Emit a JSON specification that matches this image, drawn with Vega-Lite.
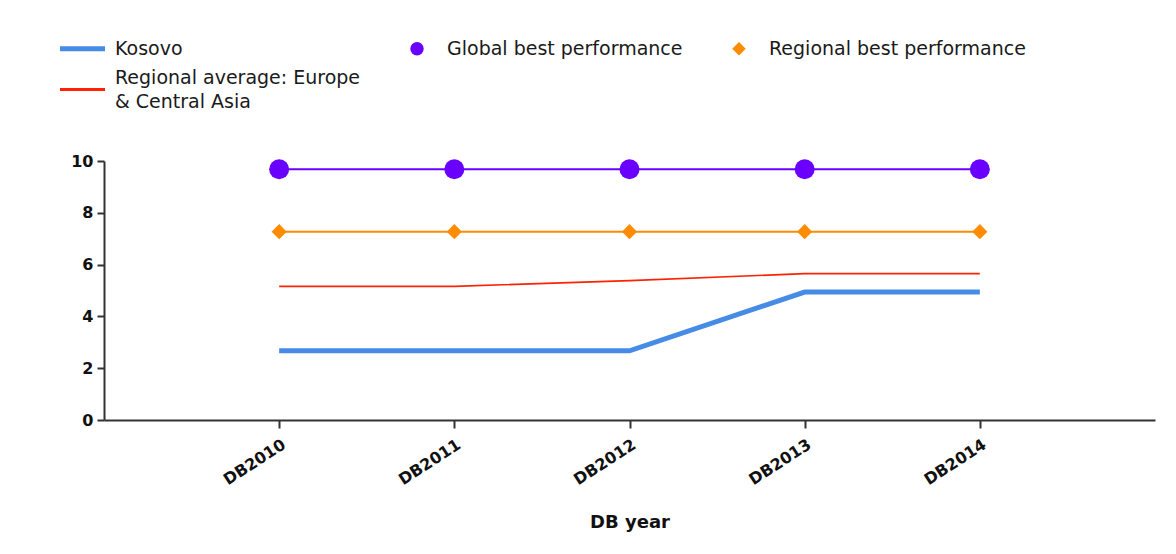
{
  "$schema": "https://vega.github.io/schema/vega-lite/v6.json",
  "width": 1051,
  "height": 259,
  "autosize": {"type": "none"},
  "padding": {"left": 104, "top": 161, "right": 21, "bottom": 134},
  "background": "white",
  "config": {"view": {"stroke": null}, "font": "DejaVu Sans"},
  "data": {
    "values": [
      {"year": "DB2010", "series": "Kosovo", "value": 2.67},
      {"year": "DB2011", "series": "Kosovo", "value": 2.67},
      {"year": "DB2012", "series": "Kosovo", "value": 2.67},
      {"year": "DB2013", "series": "Kosovo", "value": 4.94},
      {"year": "DB2014", "series": "Kosovo", "value": 4.94},
      {"year": "DB2010", "series": "Global best performance", "value": 9.68},
      {"year": "DB2011", "series": "Global best performance", "value": 9.68},
      {"year": "DB2012", "series": "Global best performance", "value": 9.68},
      {"year": "DB2013", "series": "Global best performance", "value": 9.68},
      {"year": "DB2014", "series": "Global best performance", "value": 9.68},
      {"year": "DB2010", "series": "Regional best performance", "value": 7.27},
      {"year": "DB2011", "series": "Regional best performance", "value": 7.27},
      {"year": "DB2012", "series": "Regional best performance", "value": 7.27},
      {"year": "DB2013", "series": "Regional best performance", "value": 7.27},
      {"year": "DB2014", "series": "Regional best performance", "value": 7.27},
      {"year": "DB2010", "series": "Regional average: Europe & Central Asia", "value": 5.16},
      {"year": "DB2011", "series": "Regional average: Europe & Central Asia", "value": 5.16},
      {"year": "DB2012", "series": "Regional average: Europe & Central Asia", "value": 5.38},
      {"year": "DB2013", "series": "Regional average: Europe & Central Asia", "value": 5.65},
      {"year": "DB2014", "series": "Regional average: Europe & Central Asia", "value": 5.65}
    ]
  },
  "encoding": {
    "x": {
      "field": "year",
      "type": "ordinal",
      "scale": {"type": "point", "padding": 1},
      "axis": {
        "title": "DB year",
        "titleFont": "DejaVu Sans",
        "titleFontSize": 18,
        "titleFontWeight": "bold",
        "titleColor": "#111",
        "titlePadding": 26,
        "labelAngle": -33,
        "labelFont": "DejaVu Sans",
        "labelFontSize": 16,
        "labelFontWeight": "bold",
        "labelColor": "#111",
        "labelPadding": 8,
        "tickSize": 8,
        "tickWidth": 2,
        "tickColor": "#333",
        "domainColor": "#333",
        "domainWidth": 2,
        "grid": false
      }
    },
    "y": {
      "field": "value",
      "type": "quantitative",
      "scale": {"domain": [0, 10]},
      "axis": {
        "title": null,
        "values": [0, 2, 4, 6, 8, 10],
        "grid": false,
        "labelFont": "DejaVu Sans",
        "labelFontSize": 16,
        "labelFontWeight": "bold",
        "labelColor": "#111",
        "labelPadding": 4,
        "tickSize": 7,
        "tickWidth": 2,
        "tickColor": "#333",
        "domainColor": "#333",
        "domainWidth": 2
      }
    }
  },
  "layer": [
    {
      "mark": {"type": "line"},
      "encoding": {
        "color": {
          "field": "series",
          "type": "nominal",
          "scale": {
            "domain": ["Kosovo", "Global best performance", "Regional best performance", "Regional average: Europe & Central Asia"],
            "range": ["#468be6", "#6a00ff", "#ff8c00", "#ff2200"]
          },
          "legend": {
            "title": null,
            "orient": "none",
            "legendX": -44,
            "legendY": -122,
            "direction": "horizontal",
            "columns": 3,
            "columnPadding": 31,
            "rowPadding": 9,
            "labelFont": "DejaVu Sans",
            "labelFontSize": 19,
            "labelColor": "#1a1a1a",
            "labelLimit": 400,
            "labelOffset": 36,
            "symbolType": "stroke",
            "symbolSize": 196,
            "labelExpr": "datum.label == 'Regional average: Europe & Central Asia' ? ['Regional average: Europe', '& Central Asia'] : datum.label",
            "encode": {
              "labels": {"update": {"lineHeight": {"value": 24}}},
              "symbols": {
                "update": {
                  "shape": {"signal": "datum.value == 'Global best performance' ? 'circle' : datum.value == 'Regional best performance' ? 'diamond' : 'M-1,0H5.43'"},
                  "size": {"signal": "datum.value == 'Global best performance' ? 180 : datum.value == 'Regional best performance' ? 180 : 196"},
                  "x": {"signal": "(datum.value == 'Global best performance' || datum.value == 'Regional best performance') ? 25 : 7"},
                  "y": {"signal": "datum.value == 'Regional average: Europe & Central Asia' ? 21.5 : 9.5"},
                  "strokeWidth": {"signal": "datum.value == 'Kosovo' ? 5 : (datum.value == 'Global best performance' || datum.value == 'Regional best performance') ? 0 : 3"},
                  "fill": {"signal": "datum.value == 'Global best performance' ? '#6a00ff' : datum.value == 'Regional best performance' ? '#ff8c00' : 'transparent'"},
                  "opacity": {"value": 1}
                }
              }
            }
          }
        },
        "strokeWidth": {
          "condition": [
            {"test": "datum.series == 'Kosovo'", "value": 5},
            {"test": "datum.series == 'Regional average: Europe & Central Asia'", "value": 1.6}
          ],
          "value": 2
        }
      }
    },
    {
      "transform": [{"filter": "datum.series == 'Global best performance' || datum.series == 'Regional best performance'"}],
      "mark": {"type": "point", "filled": true, "opacity": 1},
      "encoding": {
        "color": {"field": "series", "type": "nominal"},
        "shape": {
          "field": "series",
          "type": "nominal",
          "scale": {"domain": ["Global best performance", "Regional best performance"], "range": ["circle", "diamond"]},
          "legend": null
        },
        "size": {
          "field": "series",
          "type": "nominal",
          "scale": {"domain": ["Global best performance", "Regional best performance"], "range": [400, 230]},
          "legend": null
        }
      }
    }
  ]
}
